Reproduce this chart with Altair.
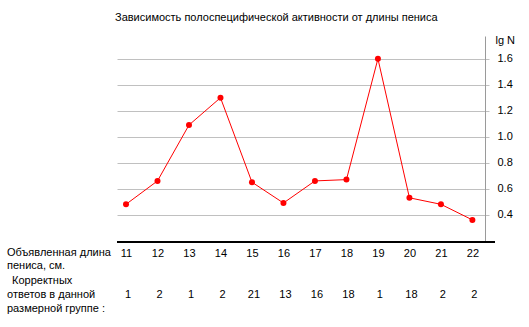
import altair as alt
import pandas as pd

lengths = [11, 12, 13, 14, 15, 16, 17, 18, 19, 20, 21, 22]
lg_n = [0.48, 0.66, 1.09, 1.30, 0.65, 0.49, 0.66, 0.67, 1.60, 0.53, 0.48, 0.36]
counts = [1, 2, 1, 2, 21, 13, 16, 18, 1, 18, 2, 2]
y_ticks = [0.4, 0.6, 0.8, 1.0, 1.2, 1.4, 1.6]

title_text = "Зависимость полоспецифической активности от длины пениса"
x_label = ["Объявленная длина", "пениса, см."]
count_label_1 = "Корректных"
count_label_2 = ["ответов в  данной", "размерной группе :"]

FONT = "Liberation Sans"
W, H = 368, 206

df = pd.DataFrame({"length": lengths, "lgN": lg_n, "count": counts})
one = pd.DataFrame({"k": [0]})

x_enc = alt.X(
    "length:Q",
    scale=alt.Scale(domain=[10.714, 22.4], nice=False, zero=False),
    axis=alt.Axis(
        values=lengths, format="d", domain=False, ticks=False, grid=False,
        labelOverlap=False, labelPadding=5, labelFont=FONT, labelFontSize=11,
        labelColor="black", title=None,
    ),
)
y_enc = alt.Y(
    "lgN:Q",
    scale=alt.Scale(domain=[0.19, 1.775], nice=False, zero=False),
    axis=alt.Axis(
        orient="right", values=y_ticks, format=".1f", labelOverlap=False,
        grid=True, gridColor="#c0c0c0", gridWidth=1,
        domainColor="#9a9a9a", tickColor="#c0c0c0", tickSize=4,
        labelPadding=8, labelFont=FONT, labelFontSize=11, labelColor="black",
        title="lg N", titleAngle=0, titleX=10, titleY=7, titleAlign="left",
        titleBaseline="alphabetic", titleFont=FONT, titleFontSize=11,
        titleFontWeight="normal", titleColor="black",
    ),
)

base = alt.Chart(df).encode(x=x_enc, y=y_enc)
line = base.mark_line(color="#ff0000", strokeWidth=1)
pts = base.mark_circle(color="#ff0000", size=36, opacity=1)
cnt = alt.Chart(df).mark_text(font=FONT, fontSize=11, color="black", baseline="alphabetic", dx=2).encode(
    x=x_enc, y=alt.value(262), text="count:Q"
)
axis_line = alt.Chart(one).mark_rule(color="black", strokeWidth=2).encode(
    x=alt.value(0), x2=alt.value(378), y=alt.value(206)
)
lbl1 = alt.Chart(one).mark_text(font=FONT, fontSize=11, color="black", align="left",
                                baseline="alphabetic", lineHeight=13).encode(
    x=alt.value(-110), y=alt.value(220), text=alt.value(x_label)
)
lbl2 = alt.Chart(one).mark_text(font=FONT, fontSize=11, color="black", align="left",
                                baseline="alphabetic").encode(
    x=alt.value(-105), y=alt.value(248), text=alt.value(count_label_1)
)
lbl3 = alt.Chart(one).mark_text(font=FONT, fontSize=11, color="black", align="left",
                                baseline="alphabetic", lineHeight=13.5).encode(
    x=alt.value(-110), y=alt.value(262), text=alt.value(count_label_2)
)

chart = alt.layer(line, pts, cnt, axis_line, lbl1, lbl2, lbl3).properties(
    width=W, height=H,
    title=alt.TitleParams(title_text, anchor="start", frame="group", dx=-2, offset=2,
                          baseline="alphabetic", font=FONT, fontSize=11,
                          fontWeight="normal", color="black"),
    autosize=alt.AutoSizeParams(type="none"),
    padding={"left": 117, "top": 36, "right": 44, "bottom": 85},
    background="white",
).configure_view(stroke=None)

chart.save("out.html", embed_options={"renderer": "svg", "actions": False})
